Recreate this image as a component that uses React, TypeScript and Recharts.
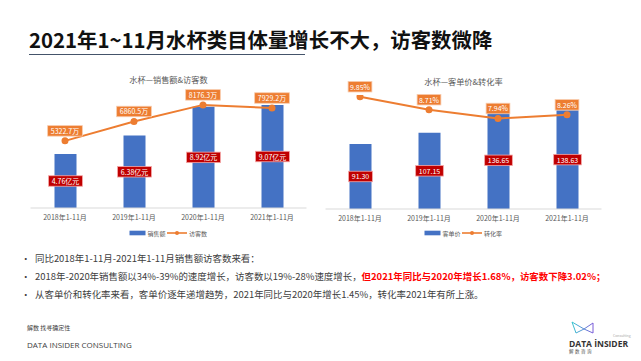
import React from 'react';
import { ComposedChart, Bar, Line, XAxis, YAxis, LabelList } from 'recharts';

// 水杯类目 2018-2021 年 1-11 月
const years = ['2018年1-11月', '2019年1-11月', '2020年1-11月', '2021年1-11月'];
const salesAmount = [4.76, 6.38, 8.92, 9.07]; // 亿元
const visitorCount = [5322.7, 6860.5, 8176.3, 7929.2]; // 万
const unitPrice = [91.3, 107.15, 136.65, 138.63];
const conversionRate = [9.85, 8.71, 7.94, 8.26]; // %

const BLUE = '#4472C4';
const ORANGE = '#ED7D31';
const RED = '#C00000';
const FONT = '"Noto Sans CJK SC", "Noto Sans", sans-serif';

const salesData = years.map((year, i) => ({ year, sales: salesAmount[i], visitors: visitorCount[i] }));
const priceData = years.map((year, i) => ({ year, price: unitPrice[i], rate: conversionRate[i] }));

const measure = (s: string, fs: number) => {
  let w = 0;
  for (const ch of s) {
    if (/[\u3000-\u9fff\uff00-\uffef]/.test(ch)) w += fs;
    else if (ch === '.') w += fs * 0.3;
    else w += fs * 0.56;
  }
  return w;
};

function Tag({ cx, cy, text, fill, stroke }: { cx: number; cy: number; text: string; fill: string; stroke: string }) {
  const fs = 7;
  const w = measure(text, fs) + 6;
  const h = 10.5;
  return (
    <g>
      <rect x={cx - w / 2} y={cy - h / 2} width={w} height={h} fill={fill} stroke={stroke} strokeWidth={0.8} />
      <text x={cx} y={cy} textAnchor="middle" dominantBaseline="central" fontSize={fs} fill="#fff" fontFamily={FONT}>
        {text}
      </text>
    </g>
  );
}

const barTag = (fmt: (v: number) => string) => (p: any) =>
  <Tag cx={Number(p.x) + Number(p.width) / 2} cy={Number(p.y) + Number(p.height) / 2} text={fmt(p.value)} fill={RED} stroke="#F4A6A6" />;

const lineTag = (fmt: (v: number) => string) => (p: any) =>
  <Tag cx={Number(p.x)} cy={Number(p.y) - 10} text={fmt(p.value)} fill={ORANGE} stroke="#F8CBAD" />;

interface ChartProps {
  data: any[];
  barKey: string;
  lineKey: string;
  barDomain: [number, number];
  lineDomain: [number, number];
  barFmt: (v: number) => string;
  lineFmt: (v: number) => string;
  left: number;
  top: number;
  marginTop: number;
}

function DualChart({ data, barKey, lineKey, barDomain, lineDomain, barFmt, lineFmt, left, top, marginTop }: ChartProps) {
  return (
    <div style={{ position: 'absolute', left, top }}>
      <ComposedChart width={300} height={150} data={data} margin={{ top: marginTop, right: 13.5, bottom: 2, left: 10.5 }}>
        <XAxis
          dataKey="year"
          interval={0}
          tickLine={false}
          tickSize={0}
          tickMargin={7}
          height={20}
          axisLine={{ stroke: '#D9D9D9' }}
          tick={{ fontSize: 7, fill: '#595959', fontFamily: FONT }}
        />
        <YAxis yAxisId="bar" hide domain={barDomain} allowDataOverflow />
        <YAxis yAxisId="line" orientation="right" hide domain={lineDomain} allowDataOverflow />
        <Bar yAxisId="bar" dataKey={barKey} fill={BLUE} barSize={22} isAnimationActive={false}>
          <LabelList dataKey={barKey} content={barTag(barFmt)} />
        </Bar>
        <Line
          yAxisId="line"
          type="linear"
          dataKey={lineKey}
          stroke={ORANGE}
          strokeWidth={2}
          dot={{ r: 2.5, fill: ORANGE, stroke: ORANGE }}
          isAnimationActive={false}
        >
          <LabelList dataKey={lineKey} content={lineTag(lineFmt)} />
        </Line>
      </ComposedChart>
    </div>
  );
}

function LegendRow({ cx, y, barName, lineName }: { cx: number; y: number; barName: string; lineName: string }) {
  const fs = 6;
  const x0 = cx - 39;
  return (
    <g fontFamily={FONT} fontSize={fs} fill="#595959">
      <rect x={x0} y={y - 2.3} width={16} height={4.6} fill={BLUE} />
      <text x={x0 + 18} y={y} dominantBaseline="central">{barName}</text>
      <line x1={x0 + 37.5} x2={x0 + 57.5} y1={y} y2={y} stroke={ORANGE} strokeWidth={1.6} />
      <circle cx={x0 + 47.5} cy={y} r={2} fill={ORANGE} />
      <text x={x0 + 59.5} y={y} dominantBaseline="central">{lineName}</text>
    </g>
  );
}

export default function App() {
  return (
    <div style={{ position: 'absolute', left: 0, top: 0, width: 641, height: 361, background: '#fff', overflow: 'hidden' }}>
      <svg width={641} height={361} style={{ position: 'absolute', left: 0, top: 0 }} fontFamily={FONT}>
        <text x={29} y={39} dominantBaseline="central" fontSize={20.4} fontWeight="bold" fill="#111">
          2021年1~11月水杯类目体量增长不大，访客数微降
        </text>
        <line x1={29} x2={305} y1={54.5} y2={54.5} stroke="#44546A" strokeWidth={1.2} />

        <text x={168.5} y={79} textAnchor="middle" dominantBaseline="central" fontSize={8.2} fill="#595959">
          水杯—销售额&amp;访客数
        </text>
        <text x={463.5} y={81} textAnchor="middle" dominantBaseline="central" fontSize={8.2} fill="#595959">
          水杯—客单价&amp;转化率
        </text>
        <LegendRow cx={168.5} y={233} barName="销售额" lineName="访客数" />
        <LegendRow cx={463.5} y={233} barName="客单价" lineName="转化率" />

        <g fontSize={9.45} fill="#404040">
          <text x={21} y={258} dominantBaseline="central">•</text>
          <text x={35} y={258} dominantBaseline="central">同比2018年1-11月-2021年1-11月销售额访客数来看：</text>
          <text x={21} y={276} dominantBaseline="central">•</text>
          <text x={35} y={276} dominantBaseline="central">
            2018年-2020年销售额以34%-39%的速度增长，访客数以19%-28%速度增长，
            <tspan fill="#FF0000" fontWeight="bold">但2021年同比与2020年增长1.68%，访客数下降3.02%；</tspan>
          </text>
          <text x={21} y={294} dominantBaseline="central">•</text>
          <text x={35} y={294} dominantBaseline="central">从客单价和转化率来看，客单价逐年递增趋势，2021年同比与2020年增长1.45%，转化率2021年有所上涨。</text>
        </g>

        <text x={27} y={327} dominantBaseline="central" fontSize={6} fill="#404040">解数 找寻确定性</text>
        <text x={27} y={344} dominantBaseline="central" fontSize={8} fill="#404040" fontFamily='"Open Sans", sans-serif'>
          DATA INSIDER CONSULTING
        </text>

        <defs>
          <linearGradient id="logoGrad" x1="0" x2="1" y1="0" y2="0">
            <stop offset="0" stopColor="#35C6CF" />
            <stop offset="1" stopColor="#7A5AD8" />
          </linearGradient>
        </defs>
        <path
          d="M572 322 L584 329 L576 333 Z M584 329 L593 323 L593 333 Z"
          fill="none"
          stroke="url(#logoGrad)"
          strokeWidth={1}
        />
        <text x={613} y={335} dominantBaseline="central" fontSize={3.5} fill="#A6A6A6">Consulting</text>
        <text x={569} y={343} dominantBaseline="central" fontSize={8.5} fontWeight="bold" fill="#333" fontFamily='"Open Sans", sans-serif'>
          DATA İNSIDER
        </text>
        <text x={569} y={351} dominantBaseline="central" fontSize={4.5} letterSpacing={1.5} fill="#555">解数咨询</text>
      </svg>

      <DualChart
        data={salesData}
        barKey="sales"
        lineKey="visitors"
        barDomain={[0, 10]}
        lineDomain={[0, 9000]}
        barFmt={(v) => `${v.toFixed(2)}亿元`}
        lineFmt={(v) => `${v.toFixed(1)}万`}
        left={20}
        top={80}
        marginTop={14.5}
      />
      <DualChart
        data={priceData}
        barKey="price"
        lineKey="rate"
        barDomain={[0, 160]}
        lineDomain={[0, 10]}
        barFmt={(v) => v.toFixed(2)}
        lineFmt={(v) => `${v.toFixed(2)}%`}
        left={315}
        top={81}
        marginTop={14}
      />
    </div>
  );
}
